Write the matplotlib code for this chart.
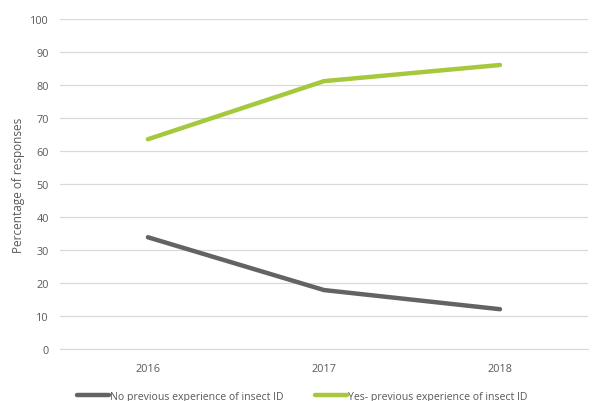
import matplotlib
matplotlib.use("Agg")
from matplotlib import pyplot as plt
import numpy as np

years = ["2016", "2017", "2018"]
no_prev = [33.9, 17.9, 12.1]
yes_prev = [63.6, 81.2, 86.1]
labels = ["No previous experience of insect ID", "Yes- previous experience of insect ID"]

plt.rcParams['font.family'] = ['Open Sans', 'DejaVu Sans']
txt = '#595959'

fig = plt.figure(figsize=(5.93, 4.02), dpi=100)
ax = fig.add_axes([0.101, 0.129, 0.8906, 0.821])

x = np.arange(len(years))
ax.plot(x, no_prev, color='#636363', lw=3.2, solid_capstyle='round', label=labels[0])
ax.plot(x, yes_prev, color='#A6C83C', lw=3.2, solid_capstyle='round', label=labels[1])

ax.set_xlim(-0.5, 2.5)
ax.set_ylim(0, 100)
ax.set_yticks(range(0, 101, 10))
ax.set_xticks(x)
ax.set_xticklabels(years)
ax.yaxis.grid(True, color='#d9d9d9', lw=0.9)
ax.set_axisbelow(True)
for s in ax.spines.values():
    s.set_visible(False)
ax.spines['bottom'].set_visible(True)
ax.spines['bottom'].set_color('#d9d9d9')
ax.tick_params(length=0, labelsize=7.8, labelcolor=txt, pad=8)
ax.tick_params(axis='x', pad=10)
ax.set_ylabel('Percentage of responses', fontsize=8.5, color=txt, labelpad=4)

fig.legend(loc='lower center', bbox_to_anchor=(0.51, -0.025), ncol=2, frameon=False,
           fontsize=7.6, labelcolor=txt, handlelength=3, handletextpad=0.1, columnspacing=3)

fig.savefig('out.png', dpi=100)
